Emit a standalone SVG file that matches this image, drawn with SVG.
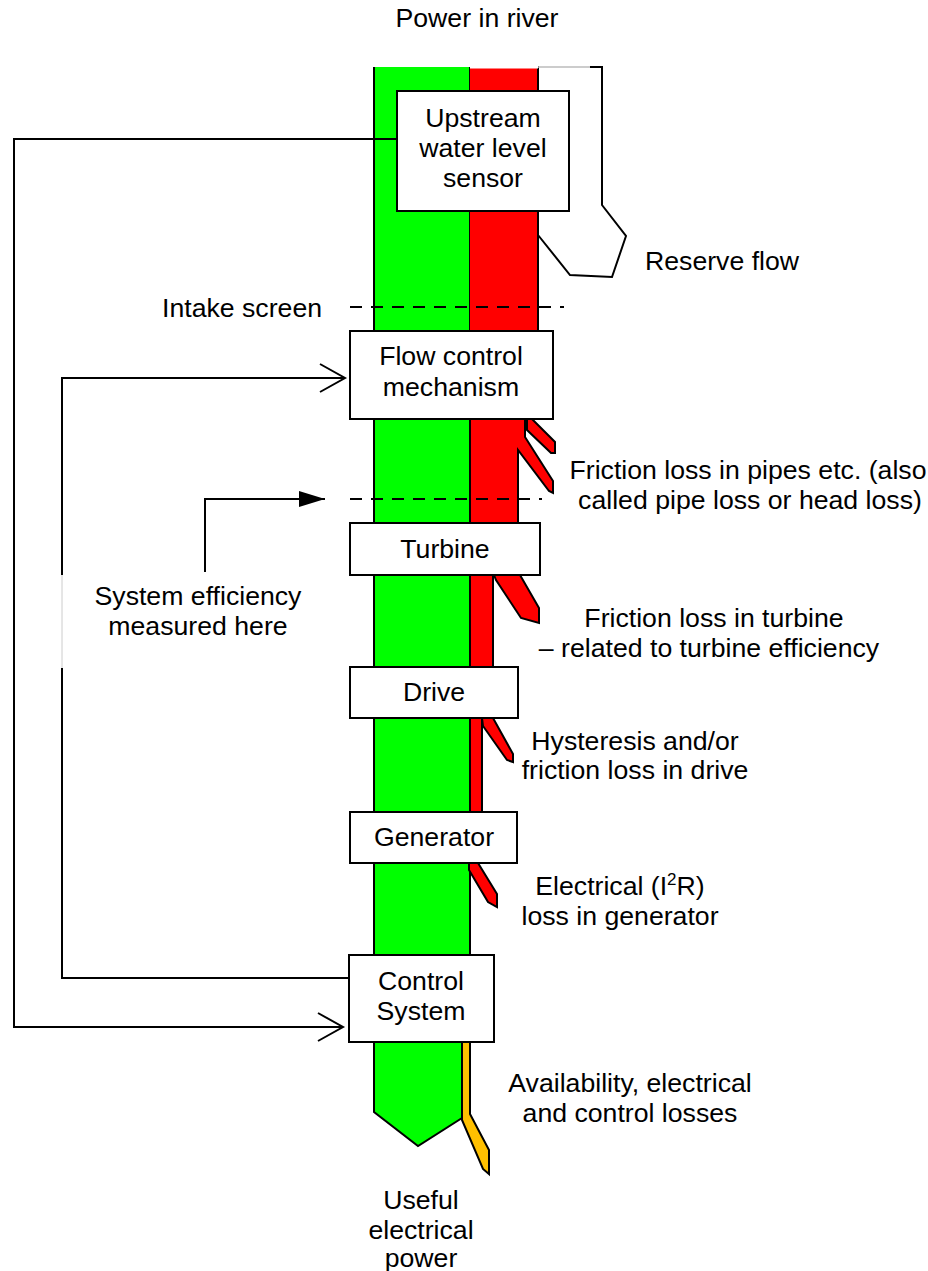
<svg xmlns="http://www.w3.org/2000/svg" width="928" height="1271" viewBox="0 0 928 1271">
<style>
text{font-family:"Liberation Sans",Arial,sans-serif;font-size:26.67px;fill:#000}
.m{text-anchor:middle}
.box{fill:#fff;stroke:#000;stroke-width:2}
.g{fill:#00ff00}
.r{fill:#ff0000;stroke:#000;stroke-width:2;stroke-linejoin:miter}
.o{fill:#ffc000;stroke:#000;stroke-width:2}
.ln{fill:none;stroke:#000;stroke-width:2}
.dash{fill:none;stroke:#000;stroke-width:2;stroke-dasharray:12 9}
</style>
<defs>
<marker id="open" markerWidth="30" markerHeight="30" refX="26" refY="15" orient="auto" markerUnits="userSpaceOnUse">
<path d="M1,1 L26,15 L1,29" fill="none" stroke="#000" stroke-width="2"/>
</marker>
<marker id="fill" markerWidth="28" markerHeight="18" refX="26" refY="9" orient="auto" markerUnits="userSpaceOnUse">
<path d="M0,1 L26,9 L0,17 Z" fill="#000"/>
</marker>
</defs>
<rect width="928" height="1271" fill="#fff"/>

<g id="flow-bands">
<rect class="g" x="374" y="67" width="96" height="975"/>
<path class="g" d="M374,1042 L374,1112 L418,1146 L462,1118 L462,1042 Z" stroke="#000" stroke-width="2"/>
<line class="ln" x1="374" y1="67" x2="374" y2="1112"/>
<line class="ln" x1="470" y1="67" x2="470" y2="955"/>
<path class="r" d="M470,67 L538,67 L538,331 L470,331"/>
<line x1="470" y1="67" x2="538" y2="67" stroke="#fff" stroke-width="3"/>
<path class="r" d="M470,419 L525,419 L525,437 L553,481 L553,493 L549,491 L518,450 L518,523 L470,523 Z"/>
<path class="r" d="M527,419 L532,419 L555,442 L555,453 L551,453 L527,430 Z"/>
<path class="r" d="M470,575 L493,575 L493,667 L470,667 Z"/>
<path class="r" d="M494,575 L520,575 L539,608 L539,623 L521,618 L496,580 Z"/>
<path class="r" d="M470,718 L482,718 L482,812 L470,812 Z"/>
<path class="r" d="M482,718 L493,718 L513,754 L513,762 L507,760 L483,726 Z"/>
<path class="r" d="M469,863 L478,863 L497,894 L497,907 L488,902 L469,870 Z"/>
<path class="o" d="M462,1042 L470,1042 L470,1114 L489,1150 L489,1174 L483,1169 L462,1120 Z"/>
<line x1="538" y1="67" x2="590" y2="67" stroke="#bbb" stroke-width="1.5"/>
<polyline class="ln" points="590,67 602,67 602,205 626,236 612,277 570,275 538,235"/>
</g>

<g id="connectors">
<polyline class="ln" points="397,139 14,139 14,1027 343,1027" marker-end="url(#open)"/>
<polyline class="ln" points="349,978 62,978 62,668"/>
<line x1="62" y1="668" x2="62" y2="575" stroke="#ccc" stroke-width="1"/>
<polyline class="ln" points="62,575 62,378 345,378" marker-end="url(#open)"/>
<polyline class="ln" points="205,572 205,499 325,499" marker-end="url(#fill)"/>
<line class="dash" x1="350" y1="307" x2="564" y2="307"/>
<line class="dash" x1="350" y1="499" x2="542" y2="499"/>
</g>

<g id="upstream-sensor">
<rect class="box" x="397" y="91" width="172" height="120"/>
<text class="m" x="483" y="127">Upstream</text>
<text class="m" x="483" y="157">water level</text>
<text class="m" x="483" y="187">sensor</text>
</g>
<g id="flow-control">
<rect class="box" x="350" y="331" width="203" height="88"/>
<text class="m" x="451" y="365">Flow control</text>
<text class="m" x="451" y="396">mechanism</text>
</g>
<g id="turbine">
<rect class="box" x="350" y="523" width="190" height="52"/>
<text class="m" x="445" y="558">Turbine</text>
</g>
<g id="drive">
<rect class="box" x="350" y="667" width="168" height="51"/>
<text class="m" x="434" y="701">Drive</text>
</g>
<g id="generator">
<rect class="box" x="350" y="812" width="167" height="51"/>
<text class="m" x="434" y="846">Generator</text>
</g>
<g id="control-system">
<rect class="box" x="349" y="955" width="145" height="87"/>
<text class="m" x="421" y="990">Control</text>
<text class="m" x="421" y="1020">System</text>
</g>

<g id="labels">
<text class="m" x="477" y="27">Power in river</text>
<text x="645" y="270">Reserve flow</text>
<text x="162" y="317">Intake screen</text>
<text class="m" x="748" y="479">Friction loss in pipes etc. (also</text>
<text class="m" x="750" y="509">called pipe loss or head loss)</text>
<text class="m" x="198" y="605">System efficiency</text>
<text class="m" x="198" y="635">measured here</text>
<text class="m" x="714" y="627">Friction loss in turbine</text>
<text class="m" x="709" y="657">– related to turbine efficiency</text>
<text class="m" x="635" y="750">Hysteresis and/or</text>
<text class="m" x="635" y="779">friction loss in drive</text>
<text class="m" x="620" y="895">Electrical (I<tspan font-size="17" dy="-10">2</tspan><tspan dy="10">R)</tspan></text>
<text class="m" x="620" y="925">loss in generator</text>
<text class="m" x="630" y="1092">Availability, electrical</text>
<text class="m" x="630" y="1122">and control losses</text>
<text class="m" x="421" y="1209">Useful</text>
<text class="m" x="421" y="1239">electrical</text>
<text class="m" x="421" y="1267">power</text>
</g>
</svg>
